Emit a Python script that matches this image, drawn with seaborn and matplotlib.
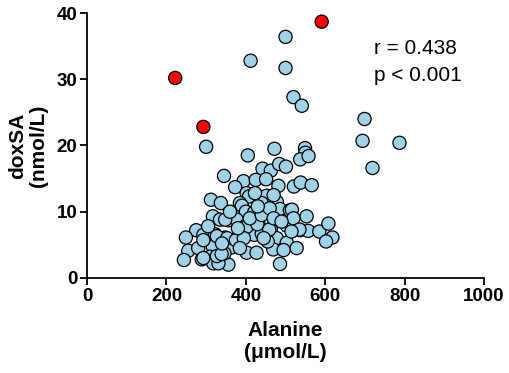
import matplotlib
matplotlib.use("Agg")
import matplotlib.pyplot as plt
import seaborn as sns
import pandas as pd

# Highlighted (red) points
red_alanine = [591, 222, 293]
red_doxsa = [38.7, 30.2, 22.8]

# Regular (blue) points
blue_alanine = [
    500, 412, 500, 520, 541, 699, 694, 787, 719, 300, 405, 472, 549, 550, 537, 558,
    345, 442, 463, 484, 501, 394, 425, 451, 482, 373, 521, 538, 566,
    402, 427, 452, 408, 312, 337, 385, 440, 478, 390, 423,
    486, 400, 421, 448, 511, 516, 317, 335, 356, 377, 348,
    402, 432, 463, 503, 520, 553, 537, 557, 585, 608, 618, 602,
    275, 249, 293, 322, 348, 373, 421, 440, 478, 503, 528,
    255, 280, 317, 364, 402, 427, 469, 495, 244, 289, 310, 335, 356, 486, 318, 346,
    293, 327, 353, 375, 402, 429, 459, 535, 293, 331, 327, 339,
    410, 440, 460, 470, 395, 455, 380, 360, 470, 430, 385, 340, 305, 445, 490, 515,
]
blue_doxsa = [
    36.4, 32.8, 31.7, 27.3, 26.0, 24.0, 20.7, 20.4, 16.6, 19.8, 18.5, 19.5, 19.6, 18.9, 17.9, 18.4,
    15.4, 16.5, 16.2, 17.2, 16.8, 14.6, 14.8, 14.9, 13.9, 13.7, 13.8, 14.4, 14.0,
    12.8, 12.5, 12.4, 12.3, 11.8, 11.3, 11.3, 11.3, 11.5, 10.9, 12.8,
    10.4, 10.0, 9.9, 9.8, 10.2, 10.3, 9.3, 8.8, 8.7, 8.8, 8.8,
    8.0, 8.1, 7.4, 7.9, 9.0, 9.3, 7.2, 7.1, 7.0, 8.2, 6.1, 5.5,
    7.2, 6.1, 6.5, 6.6, 6.1, 5.8, 6.5, 6.7, 6.0, 5.3, 4.5,
    4.1, 4.5, 4.7, 4.6, 3.8, 3.8, 4.3, 4.2, 2.7, 2.8, 3.2, 2.5, 2.0, 2.1, 2.2, 3.7,
    5.7, 6.3, 6.0, 5.7, 7.7, 8.1, 7.3, 7.3, 3.0, 2.2, 3.3, 3.6,
    9.0, 9.5, 10.5, 9.0, 6.0, 5.5, 7.5, 10.0, 12.5, 10.8, 4.5, 5.2, 7.8, 6.0, 8.5, 7.0,
]

x_ticks = [0, 200, 400, 600, 800, 1000]
y_ticks = [0, 10, 20, 30, 40]

df = pd.DataFrame({
    "Alanine": blue_alanine + red_alanine,
    "doxSA": blue_doxsa + red_doxsa,
    "group": ["blue"] * len(blue_alanine) + ["red"] * len(red_alanine),
})

sns.set_theme(style="ticks")
plt.rcParams["font.family"] = ["Liberation Sans", "DejaVu Sans"]
plt.rcParams["text.color"] = "black"
plt.rcParams["axes.labelcolor"] = "black"
plt.rcParams["xtick.color"] = "black"
plt.rcParams["ytick.color"] = "black"

fig = plt.figure(figsize=(5.09, 3.73), dpi=100)
ax = fig.add_axes([0.171, 0.255, 0.780, 0.710])

sns.scatterplot(
    data=df, x="Alanine", y="doxSA", hue="group",
    palette={"blue": "#9fd2e7", "red": "#ff0000"},
    s=90, edgecolor="black", linewidth=0.9, legend=False, ax=ax, zorder=3,
    clip_on=False,
)

ax.set_xlim(0, 1000)
ax.set_ylim(0, 40)
ax.set_xticks(x_ticks)
ax.set_yticks(y_ticks)
ax.set_xticklabels([str(v) for v in x_ticks], fontweight="bold", fontsize=13.5)
ax.set_yticklabels([str(v) for v in y_ticks], fontweight="bold", fontsize=13.5)
ax.tick_params(axis="both", direction="out", length=5, width=1.3, color="black", pad=2)
for side in ["top", "right"]:
    ax.spines[side].set_visible(False)
for side in ["left", "bottom"]:
    ax.spines[side].set_linewidth(1.3)
    ax.spines[side].set_color("black")

ax.set_xlabel("Alanine\n(μmol/L)", fontweight="bold", fontsize=15, labelpad=12, linespacing=1.15)
ax.set_ylabel("doxSA\n(nmol/L)", fontweight="bold", fontsize=15, labelpad=6, linespacing=1.15)

ax.text(722, 34.7, "r = 0.438", fontsize=15, ha="left", va="center")
ax.text(722, 30.6, "p < 0.001", fontsize=15, ha="left", va="center")

fig.savefig("out.png", dpi=100)
